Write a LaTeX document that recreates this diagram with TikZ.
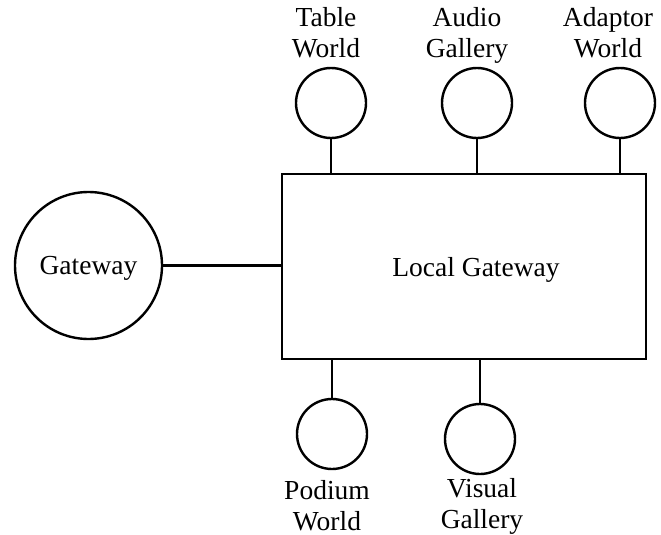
\documentclass[tikz,border=0pt]{standalone}
\usepackage{fontspec}
\setmainfont{Liberation Serif}
\begin{document}
\begin{tikzpicture}[x=1pt,y=-1pt,
  every node/.style={font=\fontsize{27.5}{31}\selectfont, inner sep=0pt},
  wire/.style={line width=2.4pt},
  site/.style={draw, circle, line width=2.4pt, minimum size=70pt},
  hub/.style={draw, circle, line width=2.4pt, minimum size=147pt, text depth=0pt},
  box/.style={draw, rectangle, line width=2.4pt, minimum width=364pt, minimum height=185pt},
  tag/.style={align=center, anchor=base}]
\useasboundingbox (0,0) rectangle (661,535);

% central gateway box and the outer gateway
\node[box] (local) at (464,266.5) {};
\node[text depth=0pt] (localtext) at (476,267) {Local Gateway};
\node[hub] (gw) at (88.5,265.5) {Gateway};

% worlds and galleries above the box
\node[site] (table) at (331,103) {};
\node[site] (audio) at (477,103) {};
\node[site] (adaptor) at (620,103) {};

% worlds and galleries below the box
\node[site] (podium) at (332,434) {};
\node[site] (visual) at (480,439) {};

% captions (the base anchor sits on the last line)
\node[tag] (tabletag) at (326,58) {Table\\World};
\node[tag] (audiotag) at (467,58) {Audio\\Gallery};
\node[tag] (adaptortag) at (608,58) {Adaptor\\World};
\node[tag] (podiumtag) at (327,530) {Podium\\World};
\node[tag] (visualtag) at (482,528) {Visual\\Gallery};

% connectors
\draw[wire] (gw.east) -- (gw.east -| local.west);
\foreach \n in {table,audio,adaptor}
  \draw[wire] (\n.south) -- (\n.south |- local.north);
\foreach \n in {podium,visual}
  \draw[wire] (\n.north) -- (\n.north |- local.south);
\end{tikzpicture}
\end{document}
